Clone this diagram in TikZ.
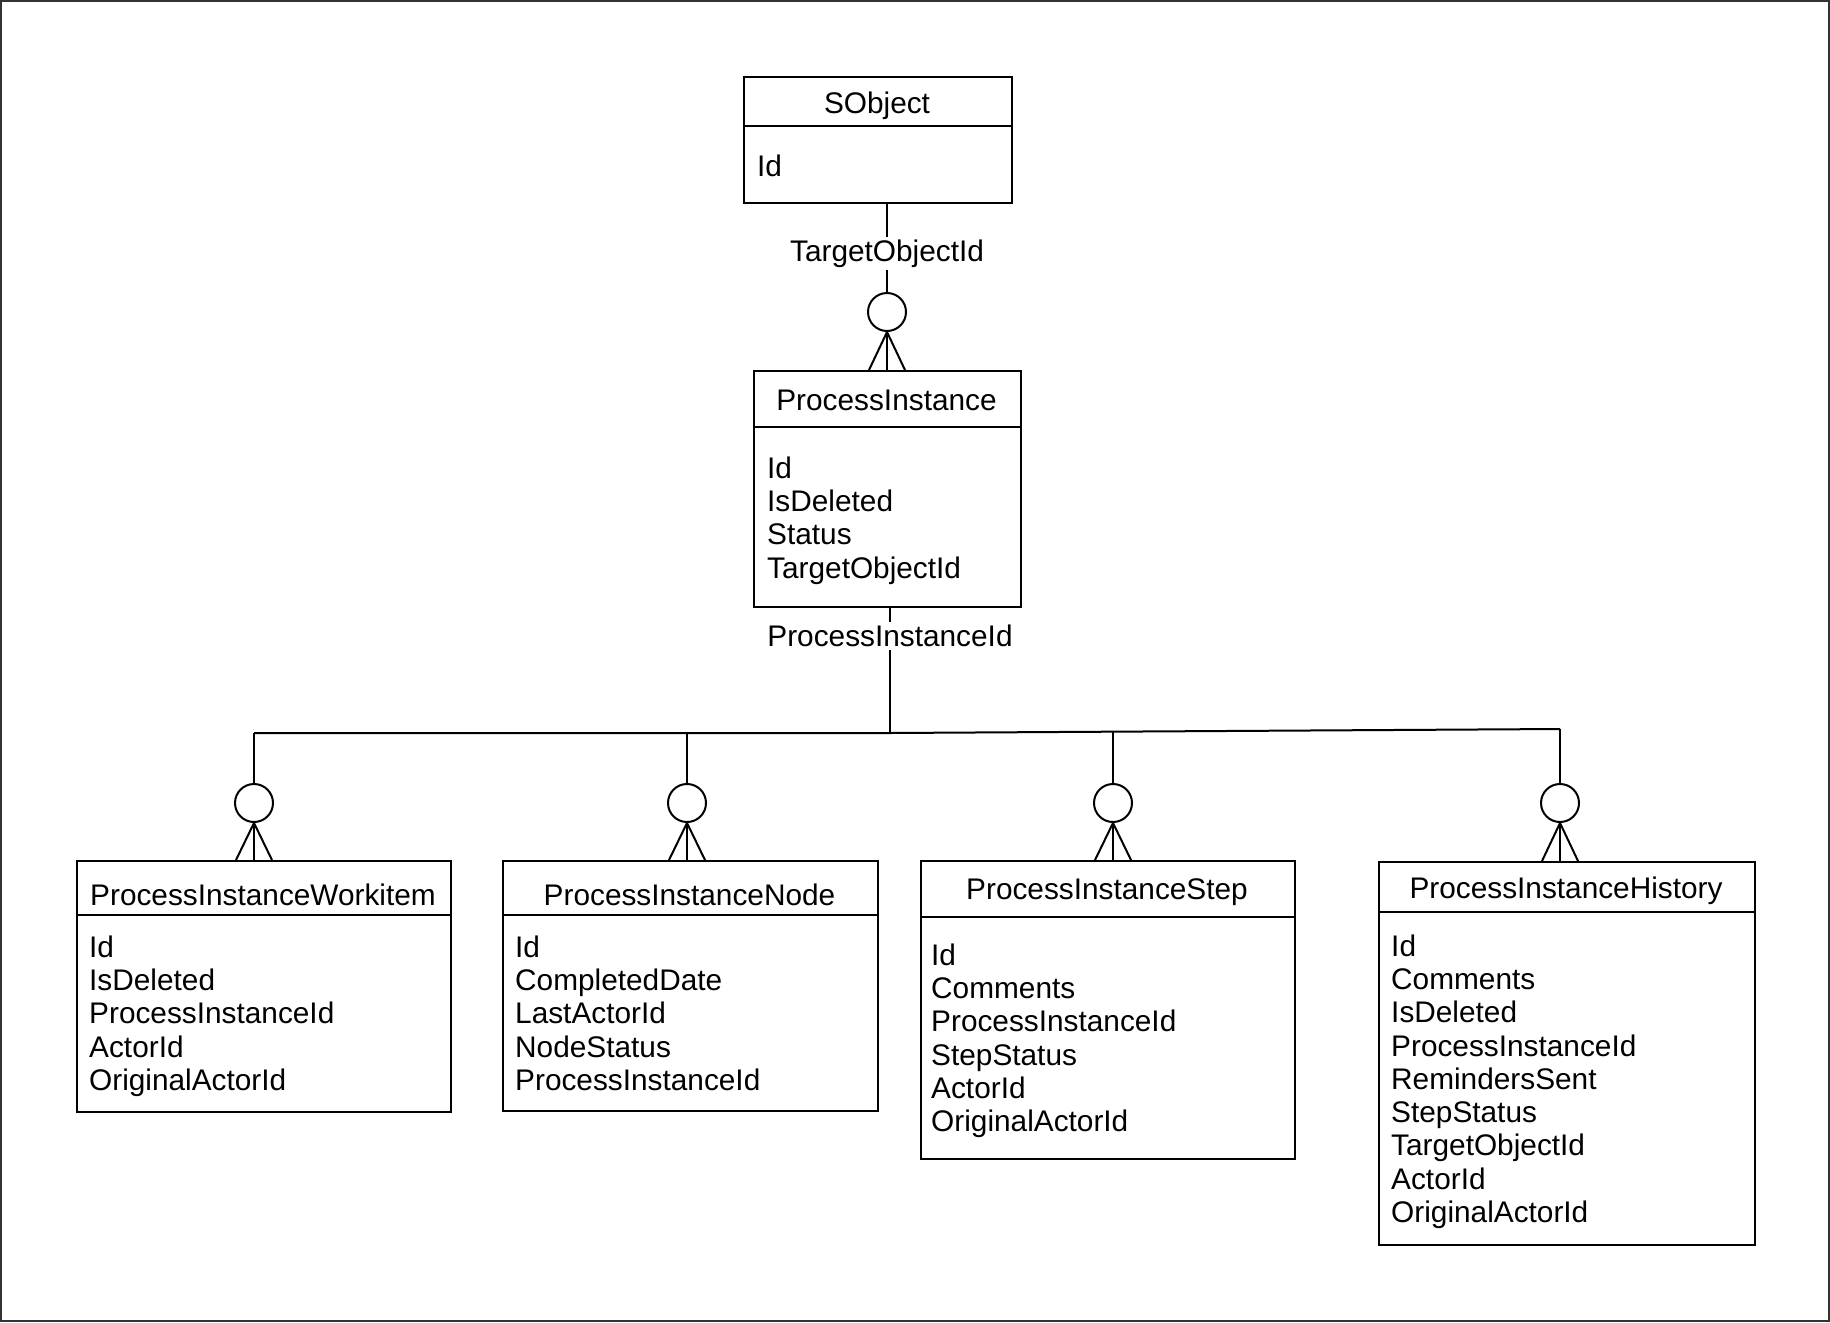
\documentclass[tikz,border=0pt]{standalone}
\usepackage{fontspec}
\setmainfont{Liberation Sans}
\begin{document}
\begin{tikzpicture}[x=1pt,y=-1pt,
  txt/.style={font=\fontsize{29.8}{33.3}\selectfont, inner sep=0pt},
  ent/.style={draw, line width=2pt, rectangle, inner sep=0pt, anchor=north west},
  title/.style={txt, anchor=base},
  attr/.style={txt, align=left, anchor=north west},
  conn/.style={line width=2pt},
  lbl/.style={txt, fill=white, inner sep=3pt},
  crow/.style={circle, draw, fill=white, line width=2pt, minimum size=38pt, inner sep=0pt}
]
\useasboundingbox (0,0) rectangle (1830,1322);
\draw[line width=2pt, black!80] (1,1) rectangle (1829,1321);

% ---- SObject
\node[ent, minimum width=268pt, minimum height=126pt] (so) at (743,76) {};
\draw[conn] (so.west |- 0,126) -- (so.east |- 0,126);
\node[title] (sot) at (877,113.7) {SObject};
\node[attr] (soa) at (757,154.3) {Id};

% ---- ProcessInstance
\node[ent, minimum width=267pt, minimum height=236pt] (pi) at (753,370) {};
\draw[conn] (pi.west |- 0,427) -- (pi.east |- 0,427);
\node[title] (pit) at (886.5,410.7) {ProcessInstance};
\node[attr] (pia) at (767,456.3) {Id\\IsDeleted\\Status\\TargetObjectId};

% ---- ProcessInstanceWorkitem
\node[ent, minimum width=374pt, minimum height=251pt] (wi) at (76,860) {};
\draw[conn] (wi.west |- 0,915) -- (wi.east |- 0,915);
\node[title] (wit) at (263,905.7) {ProcessInstanceWorkitem};
\node[attr] (wia) at (89,935.3) {Id\\IsDeleted\\ProcessInstanceId\\ActorId\\OriginalActorId};

% ---- ProcessInstanceNode
\node[ent, minimum width=375pt, minimum height=250pt] (nd) at (502,860) {};
\draw[conn] (nd.west |- 0,915) -- (nd.east |- 0,915);
\node[title] (ndt) at (689.5,905.7) {ProcessInstanceNode};
\node[attr] (nda) at (515,935.3) {Id\\CompletedDate\\LastActorId\\NodeStatus\\ProcessInstanceId};

% ---- ProcessInstanceStep
\node[ent, minimum width=374pt, minimum height=298pt] (st) at (920,860) {};
\draw[conn] (st.west |- 0,917) -- (st.east |- 0,917);
\node[title] (stt) at (1107,899.7) {ProcessInstanceStep};
\node[attr] (sta) at (931,943.3) {Id\\Comments\\ProcessInstanceId\\StepStatus\\ActorId\\OriginalActorId};

% ---- ProcessInstanceHistory
\node[ent, minimum width=376pt, minimum height=383pt] (hi) at (1378,861) {};
\draw[conn] (hi.west |- 0,912) -- (hi.east |- 0,912);
\node[title] (hit) at (1566,898.7) {ProcessInstanceHistory};
\node[attr] (hia) at (1391,934.3) {Id\\Comments\\IsDeleted\\ProcessInstanceId\\RemindersSent\\StepStatus\\TargetObjectId\\ActorId\\OriginalActorId};

% ---- SObject -> ProcessInstance
\node[crow] (c0) at (887,312) {};
\coordinate (f0) at (887,370);
\draw[conn] (f0 |- so.south) -- (c0.north);
\draw[conn] (c0.south) -- (f0);
\draw[conn] (c0.south) -- ([xshift=-18pt]f0);
\draw[conn] (c0.south) -- ([xshift=18pt]f0);
\node[lbl] (l0) at (887,253.5) {TargetObjectId};

% ---- ProcessInstance -> children
\coordinate (hub) at (890,733);
\coordinate (jw) at (254,733);
\coordinate (jn) at (687,733);
\coordinate (js) at (1113,731.7);
\coordinate (jh) at (1560,729);
\draw[conn] (hub |- pi.south) -- (hub);
\draw[conn] (jw) -- (hub) -- (jh);

\node[crow] (c1) at (254,803) {};
\node[crow] (c2) at (687,803) {};
\node[crow] (c3) at (1113,803) {};
\node[crow] (c4) at (1560,803) {};
\coordinate (f1) at (254,860);
\coordinate (f2) at (687,860);
\coordinate (f3) at (1113,860);
\coordinate (f4) at (1560,861);
\foreach \j/\c/\f in {jw/c1/f1, jn/c2/f2, js/c3/f3, jh/c4/f4}{
  \draw[conn] (\j) -- (\c.north);
  \draw[conn] (\c.south) -- (\f);
  \draw[conn] (\c.south) -- ([xshift=-18pt]\f);
  \draw[conn] (\c.south) -- ([xshift=18pt]\f);
}
\node[lbl] (l1) at (890,636) {ProcessInstanceId};
\end{tikzpicture}
\end{document}
